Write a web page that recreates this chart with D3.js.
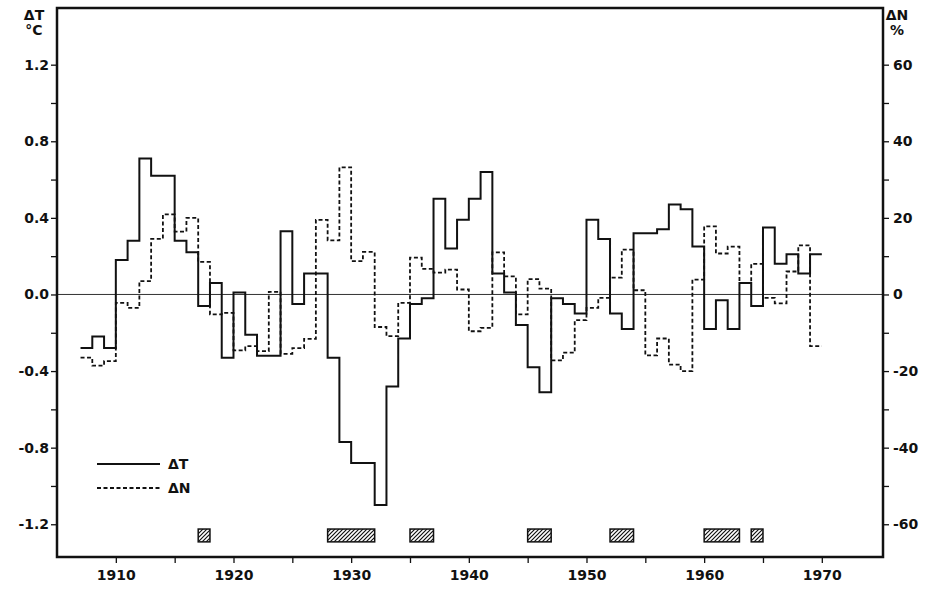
<!DOCTYPE html>
<html><head><meta charset="utf-8">
<script src="https://cdn.jsdelivr.net/npm/d3@7/dist/d3.min.js"></script>
<style>body{margin:0;background:#fff}svg text{font-family:"DejaVu Sans",sans-serif;font-weight:bold;fill:#111}</style>
</head><body><svg id="c" width="931" height="590"></svg>
<script>
// ---- data ----
const years = [1907,1908,1909,1910,1911,1912,1913,1914,1915,1916,1917,1918,1919,
  1920,1921,1922,1923,1924,1925,1926,1927,1928,1929,1930,1931,1932,1933,1934,1935,1936,
  1937,1938,1939,1940,1941,1942,1943,1944,1945,1946,1947,1948,1949,1950,1951,1952,1953,
  1954,1955,1956,1957,1958,1959,1960,1961,1962,1963,1964,1965,1966,1967,1968,1969];
const endYear = 1970;
const deltaT = [-0.28,-0.22,-0.28,0.18,0.28,0.71,0.62,0.62,0.28,0.22,-0.06,0.06,-0.33,
  0.01,-0.21,-0.32,-0.32,0.33,-0.05,0.11,0.11,-0.33,-0.77,-0.88,-0.88,-1.10,-0.48,-0.23,-0.05,-0.02,
  0.50,0.24,0.39,0.50,0.64,0.11,0.01,-0.16,-0.38,-0.51,-0.02,-0.05,-0.10,0.39,0.29,-0.10,-0.18,
  0.32,0.32,0.34,0.47,0.445,0.25,-0.18,-0.03,-0.18,0.06,-0.06,0.35,0.16,0.21,0.11,0.21];
const deltaN = [-16.5,-18.6,-17.4,-2.2,-3.5,3.5,14.5,20.9,16.4,20.0,8.5,-5.2,-4.8,
  -14.6,-13.5,-14.8,0.7,-15.5,-14.0,-11.6,19.5,14.1,33.2,8.7,11.1,-8.5,-10.9,-2.2,9.6,6.7,
  5.7,6.5,1.3,-9.6,-8.7,11.0,4.7,-5.2,4.0,1.5,-17.2,-15.2,-6.7,-3.5,-0.9,4.4,11.7,
  1.1,-15.9,-11.5,-18.3,-20.0,3.9,17.8,10.7,12.5,3.0,8.0,-0.9,-2.3,6.0,12.8,-13.5];
const hatchStart = [1917,1928,1935,1945,1952,1960,1964];
const hatchEnd   = [1918,1932,1937,1947,1954,1963,1965];
const tTicks = [-1.2,-1.0,-0.8,-0.6,-0.4,-0.2,0,0.2,0.4,0.6,0.8,1.0,1.2];
const nTicks = [-60,-50,-40,-30,-20,-10,0,10,20,30,40,50,60];
const xTicks = [1910,1915,1920,1925,1930,1935,1940,1945,1950,1955,1960,1965,1970];

// ---- layout ----
const L = 57, R = 883, T = 8, B = 557;
const svg = d3.select("#c");
const x = d3.scaleLinear().domain([1905, 1975.2]).range([L, R]);
const yT = d3.scaleLinear().domain([-1.371, 1.496]).range([B, T]);
const yN = d3.scaleLinear().domain([-68.55, 74.8]).range([B, T]);

// hatch pattern
const defs = svg.append("defs");
const pat = defs.append("pattern").attr("id","hatch").attr("patternUnits","userSpaceOnUse")
  .attr("width",4).attr("height",4);
pat.append("path").attr("d","M-1,1 l2,-2 M0,4 l4,-4 M3,5 l2,-2")
  .attr("stroke","#111").attr("stroke-width",1.2);

// zero line
svg.append("line").attr("x1",L).attr("x2",R).attr("y1",yT(0)).attr("y2",yT(0))
  .attr("stroke","#333").attr("stroke-width",1);

// axes
const fmtT = v => (Math.round(v*10) % 4 === 0) ? v.toFixed(1) : "";
const fmtN = v => (v % 20 === 0) ? String(v) : "";
const fmtX = v => (v % 10 === 0) ? String(v) : "";
const gL = svg.append("g").attr("transform",`translate(${L},0)`)
  .call(d3.axisLeft(yT).tickValues(tTicks).tickFormat(fmtT).tickSize(6).tickPadding(2));
const gR = svg.append("g").attr("transform",`translate(${R},0)`)
  .call(d3.axisRight(yN).tickValues(nTicks).tickFormat(fmtN).tickSize(6).tickPadding(4));
const gB = svg.append("g").attr("transform",`translate(0,${B})`)
  .call(d3.axisBottom(x).tickValues(xTicks).tickFormat(fmtX).tickSize(6).tickPadding(7));
[gL,gR,gB].forEach(g=>{
  g.select(".domain").remove();
  g.selectAll(".tick line").attr("stroke","#111").attr("stroke-width",1.3);
  g.selectAll(".tick text").attr("font-size",14).attr("fill","#111")
    .style("font-family","DejaVu Sans").style("font-weight","bold");
});

// frame
svg.append("rect").attr("x",L).attr("y",T).attr("width",R-L).attr("height",B-T)
  .attr("fill","none").attr("stroke","#111").attr("stroke-width",2.5);

// step lines
function stepData(vals){ const d = years.map((yr,i)=>[yr,vals[i]]); d.push([endYear, vals[vals.length-1]]); return d; }
const lineT = d3.line().x(d=>x(d[0])).y(d=>yT(d[1])).curve(d3.curveStepAfter);
const lineN = d3.line().x(d=>x(d[0])).y(d=>yN(d[1])).curve(d3.curveStepAfter);
svg.append("path").datum(stepData(deltaN)).attr("d",lineN).attr("fill","none")
  .attr("stroke","#111").attr("stroke-width",1.8).attr("stroke-dasharray","4,2.5");
svg.append("path").datum(stepData(deltaT)).attr("d",lineT).attr("fill","none")
  .attr("stroke","#111").attr("stroke-width",2);

// hatched boxes
svg.selectAll("rect.h").data(hatchStart).join("rect").attr("class","h")
  .attr("x",(d,i)=>x(d)).attr("width",(d,i)=>x(hatchEnd[i])-x(d))
  .attr("y",yT(-1.225)).attr("height",yT(-1.292)-yT(-1.225))
  .attr("fill","url(#hatch)").attr("stroke","#111").attr("stroke-width",1.5);

// legend
svg.append("line").attr("x1",97).attr("x2",160).attr("y1",464).attr("y2",464)
  .attr("stroke","#111").attr("stroke-width",1.8);
svg.append("line").attr("x1",97).attr("x2",160).attr("y1",488).attr("y2",488)
  .attr("stroke","#111").attr("stroke-width",1.8).attr("stroke-dasharray","4,2.5");
svg.append("text").attr("x",168).attr("y",469).attr("font-size",14).text("ΔT");
svg.append("text").attr("x",168).attr("y",493).attr("font-size",14).text("ΔN");

// unit labels
svg.append("text").attr("x",34).attr("y",20).attr("text-anchor","middle").attr("font-size",14).text("ΔT");
svg.append("text").attr("x",34).attr("y",35).attr("text-anchor","middle").attr("font-size",14).text("°C");
svg.append("text").attr("x",897).attr("y",20).attr("text-anchor","middle").attr("font-size",14).text("ΔN");
svg.append("text").attr("x",897).attr("y",35).attr("text-anchor","middle").attr("font-size",14).text("%");
</script></body></html>
